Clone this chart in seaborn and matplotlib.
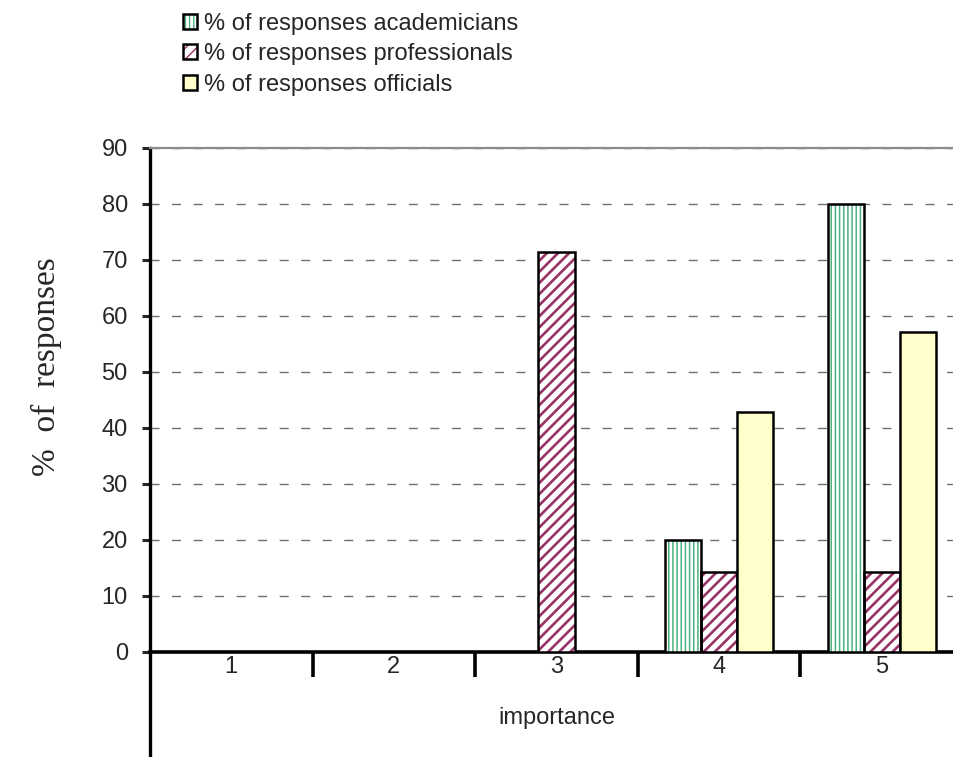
import numpy as np
import pandas as pd
import matplotlib
matplotlib.use('Agg')
import matplotlib.pyplot as plt
import matplotlib.transforms as mtransforms
import seaborn as sns
from matplotlib.patches import Patch, Rectangle
from matplotlib.legend_handler import HandlerTuple

# Data
importance = ['1', '2', '3', '4', '5']
academicians = [0, 0, 0, 20.0, 80.0]
professionals = [0, 0, 71.4, 14.3, 14.3]
officials = [0, 0, 0, 42.9, 57.1]
series_names = ['% of responses academicians',
                '% of responses professionals',
                '% of responses officials']

df = pd.DataFrame({
    'importance': importance * 3,
    'value': academicians + professionals + officials,
    'group': np.repeat(series_names, len(importance)),
})

sns.set_style('white')
plt.rcParams['font.family'] = ['Liberation Sans', 'DejaVu Sans']

# face colour, hatch colour, hatch pattern, hatch line width for each series
styles = [('white', '#4db380', '||||', 1.1),
          ('white', '#993366', '///', 1.9),
          ('#FFFFCC', None, None, None)]


def hatch_patch(cls, *args, hlw=1.0, **kw):
    # hatch line width is taken from rcParams when the patch is made
    with plt.rc_context({'hatch.linewidth': hlw}):
        p = cls(*args, **kw)
    if hasattr(p, 'set_hatch_linewidth'):
        p.set_hatch_linewidth(hlw)
    return p


fig = plt.figure(figsize=(9.54, 7.57), dpi=100)
ax = fig.add_axes([150 / 954, 1 - 652 / 757, 813 / 954, 504 / 757])

sns.barplot(data=df, x='importance', y='value', hue='group', hue_order=series_names,
            order=importance, palette=[s[0] for s in styles], width=0.665,
            saturation=1, edgecolor='black', linewidth=1.8, legend=False,
            ax=ax, zorder=4)

for cont, (face, hcol, hatch, hlw) in zip(ax.containers, styles):
    for bar in cont:
        if bar.get_height() <= 0:
            bar.set_visible(False)
            continue
        if hatch:
            bar.set_facecolor('none')
            ax.add_patch(hatch_patch(Rectangle, bar.get_xy(), bar.get_width(),
                                     bar.get_height(), hlw=hlw, facecolor='white',
                                     edgecolor=hcol, hatch=hatch, lw=0, zorder=3))

ax.set_xlim(-0.5, 4.5)
ax.set_ylim(0, 90)
ax.set_yticks(range(0, 91, 10))
ax.yaxis.grid(True, linestyle=(0, (6.5, 9)), color='#707070', lw=1)
ax.set_axisbelow(True)

ax.spines['right'].set_visible(False)
ax.spines['top'].set_color('#8c8c8c')
ax.spines['top'].set_linewidth(1.6)
ax.spines['left'].set_linewidth(2.4)
ax.spines['bottom'].set_linewidth(2.6)
ax.spines['left'].set_color('black')
ax.spines['bottom'].set_color('black')

ax.tick_params(axis='y', direction='out', length=6, width=2.2, pad=10,
               labelsize=17, left=True)
ax.tick_params(axis='x', length=0, pad=3, labelsize=17)

# extended left axis and category separators below the axis
ax.plot([0, 0], [0, -0.215], transform=ax.transAxes, color='black', lw=2.4,
        clip_on=False, solid_capstyle='butt')
trans = mtransforms.blended_transform_factory(ax.transData, ax.transAxes)
for xs in [0.5, 1.5, 2.5, 3.5, 4.5]:
    ax.plot([xs, xs], [0, -0.05], transform=trans, color='black', lw=2.6,
            clip_on=False, solid_capstyle='butt')

ax.set_xlabel('importance', fontsize=17, labelpad=21)
ax.set_ylabel('%  of  responses', fontsize=24, family=['Liberation Serif', 'DejaVu Serif'])
ax.yaxis.set_label_coords(-0.108, 0.567)

handles = []
for face, hcol, hatch, hlw in styles:
    if hatch:
        inner = hatch_patch(Patch, hlw=hlw, facecolor='white', edgecolor=hcol,
                            hatch=hatch, lw=0)
    else:
        inner = Patch(facecolor=face, lw=0)
    handles.append((inner, Patch(facecolor='none', edgecolor='black', lw=1.8)))

fig.legend(handles, series_names, loc='upper left',
           bbox_to_anchor=(183 / 954, 1 - 13 / 757), frameon=False, fontsize=17,
           handlelength=0.6, handleheight=0.6, handletextpad=0.3, labelspacing=0.35,
           borderpad=0, borderaxespad=0,
           handler_map={tuple: HandlerTuple(ndivide=1, pad=0)})

fig.savefig('out.png', dpi=100)
